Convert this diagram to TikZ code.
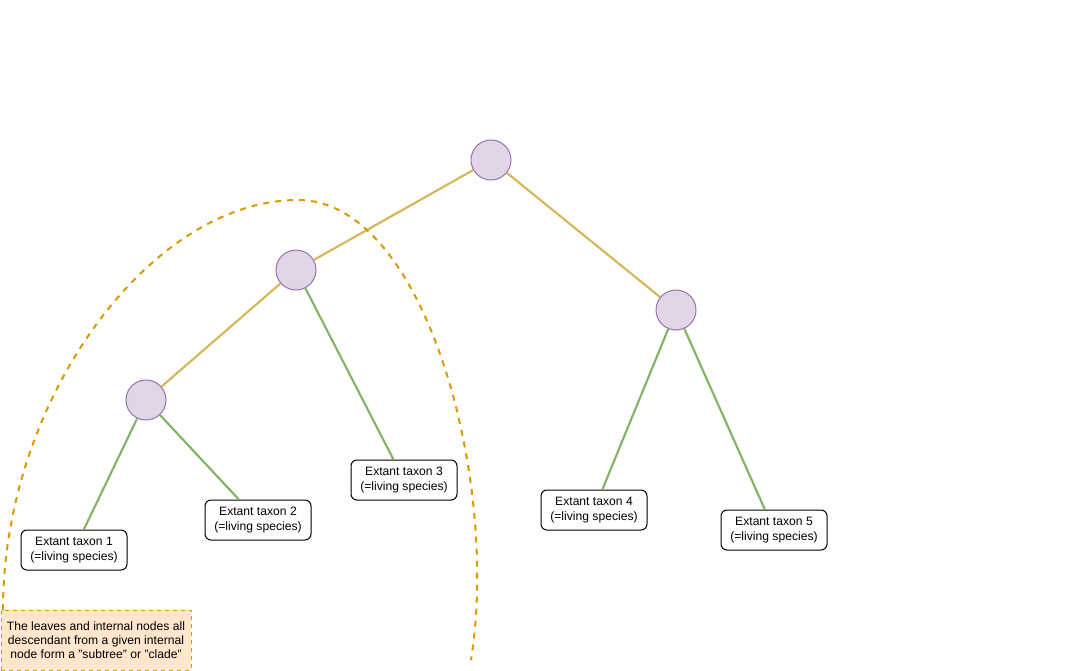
\documentclass[tikz,border=0pt]{standalone}
\usepackage{fontspec}
\setmainfont{Liberation Sans}
\definecolor{nodefill}{HTML}{E1D5E7}
\definecolor{nodedraw}{HTML}{9673A6}
\definecolor{gold}{HTML}{D6B656}
\definecolor{leafgreen}{HTML}{82B366}
\definecolor{cladeorange}{HTML}{D79B00}
\definecolor{notefill}{HTML}{FFE6CC}
\begin{document}
\begin{tikzpicture}[x=0.75pt,y=-0.75pt,
  inner/.style={circle,draw=nodedraw,fill=nodefill,line width=0.75pt,minimum size=30pt,inner sep=0pt},
  leaf/.style={draw=black,fill=white,rounded corners=4.5pt,line width=0.75pt,minimum width=79.5pt,minimum height=30pt,inner sep=0pt,align=center,font=\fontsize{9.1}{11.25}\selectfont},
  goldedge/.style={draw=gold,line width=1.6pt},
  greenedge/.style={draw=leafgreen,line width=1.6pt},
  clade/.style={draw=cladeorange,line width=1.5pt,dash pattern=on 4.5pt off 4.5pt},
  note/.style={draw=cladeorange,fill=notefill,dashed,line width=0.75pt,minimum width=142.5pt,minimum height=45pt,inner sep=0pt,align=center,font=\fontsize{9.1}{10.5}\selectfont}]
\useasboundingbox (0,0) rectangle (1072,671);
% internal nodes
\node[inner] (root) at (491,160) {};
\node[inner] (a) at (296,270) {};
\node[inner] (b) at (146,400) {};
\node[inner] (c) at (676,310) {};
% leaves
\node[leaf] (t1) at (74,550) {Extant taxon 1\\(=living species)};
\node[leaf] (t2) at (258,520) {Extant taxon 2\\(=living species)};
\node[leaf] (t3) at (404,480) {Extant taxon 3\\(=living species)};
\node[leaf] (t4) at (594,510) {Extant taxon 4\\(=living species)};
\node[leaf] (t5) at (774,530) {Extant taxon 5\\(=living species)};
% edges
\draw[goldedge] (root) -- (a);
\draw[goldedge] (a) -- (b);
\draw[goldedge] (root) -- (c);
\draw[greenedge] (a) -- (t3);
\draw[greenedge] (b) -- (t1);
\draw[greenedge] (b) -- (t2);
\draw[greenedge] (c) -- (t4);
\draw[greenedge] (c) -- (t5);
% clade arc
\coordinate (cs) at (3,610);
\coordinate (ctop) at (298,200);
\coordinate (ce) at (471,660);
\draw[clade] (cs) .. controls (3,400) and (150,200) .. (ctop)
  .. controls (425,200) and (500,480) .. (ce);
% note
\node[note] (n) at (96,640) {The leaves and internal nodes all\\descendant from a given internal\\node form a "subtree" or "clade"};
\end{tikzpicture}
\end{document}
